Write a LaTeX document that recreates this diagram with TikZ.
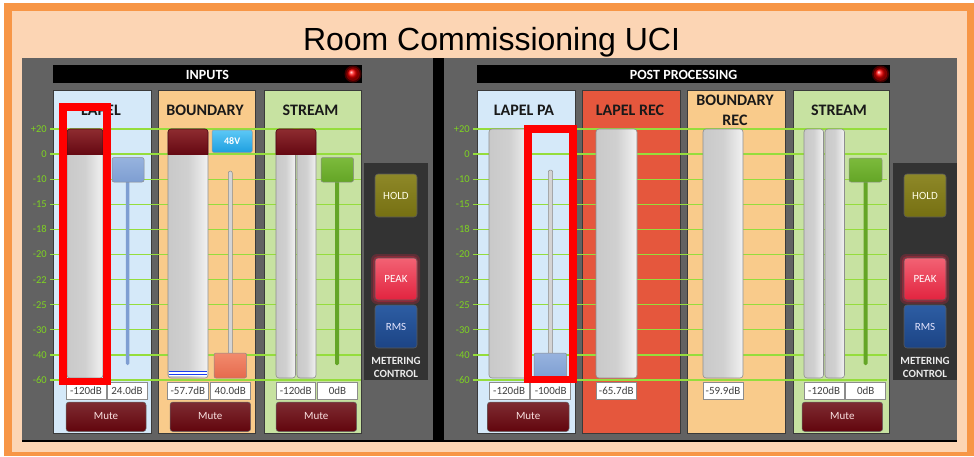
\documentclass[tikz,border=0pt]{standalone}
\usepackage{fontspec}
\setmainfont{Carlito}
\newfontfamily\titlefont{Liberation Sans}

\definecolor{frameor}{HTML}{F79646}
\definecolor{peach}{HTML}{FCD5B4}
\definecolor{panelgrey}{HTML}{626262}
\definecolor{ctrlgrey}{HTML}{333333}
\definecolor{chblue}{HTML}{D5E9F9}
\definecolor{chorange}{HTML}{F9CB8B}
\definecolor{chgreen}{HTML}{C7E2A1}
\definecolor{chred}{HTML}{E5573D}
\definecolor{chedge}{HTML}{3A3A3A}
\definecolor{gridgreen}{HTML}{95DD3C}
\definecolor{scalegreen}{HTML}{7ED321}
\definecolor{meterL}{HTML}{C9C9C9}
\definecolor{meterM}{HTML}{D0D0D0}
\definecolor{meterR}{HTML}{F2F2F2}
\definecolor{meteredge}{HTML}{8E8E8E}
\definecolor{capTop}{HTML}{8E2C30}
\definecolor{capBot}{HTML}{650812}
\definecolor{muteTop}{HTML}{7E2C32}
\definecolor{muteBot}{HTML}{62050D}
\definecolor{faderBlue}{HTML}{7E9ED2}
\definecolor{faderBlueTop}{HTML}{97B3DE}
\definecolor{faderGreen}{HTML}{64A526}
\definecolor{faderGreenTop}{HTML}{7CBB3C}
\definecolor{faderSalmon}{HTML}{E56A4E}
\definecolor{faderSalmonTop}{HTML}{F28B6D}
\definecolor{trackGrey}{HTML}{D4D4D4}
\definecolor{holdTop}{HTML}{8E8828}
\definecolor{holdBot}{HTML}{767012}
\definecolor{peakTop}{HTML}{F26274}
\definecolor{peakBot}{HTML}{E2233F}
\definecolor{rmsTop}{HTML}{2D5DA3}
\definecolor{rmsBot}{HTML}{1C4485}
\definecolor{vvTop}{HTML}{5CC8F6}
\definecolor{vvBot}{HTML}{1E9FDF}
\definecolor{levelblue}{HTML}{1A3CF0}

\newcommand{\dbbox}[4]{% name, left, right, reading
  \draw[valbox] (#2,382) rectangle (#3,399);
  \node[valtext] (#1) at ({(#2+#3)/2},390.5) {#4};}
\newcommand{\mutebutton}[3]{% name, left, right
  \draw[mutebtn] (#2,402) rectangle (#3,431.5);
  \node[mutetext] (#1) at ({(#2+#3)/2},416.5) {Mute};}
\newcommand{\capmeter}[3]{% left, right, name of cap shape
  \begin{scope}
    \clip[rounded corners=3pt] (#1,129) rectangle (#2,378);
    \shade[top color=capTop, bottom color=capBot] (#1,129) rectangle (#2,154.5);
  \end{scope}
  \draw[capBot!80!black, line width=.6pt, rounded corners=3pt] (#1,154.5) -- (#1,129) -- (#2,129) -- (#2,154.5);}

\begin{document}
\begin{tikzpicture}[x=1pt,y=-1pt,
  chpanel/.style={draw=chedge, line width=.8pt},
  meterbar/.style={draw=meteredge, line width=.6pt, rounded corners=3pt,
    left color=meterL, right color=meterR, middle color=meterM},
  gridline/.style={draw=gridgreen, line width=1.3pt},
  scalelbl/.style={anchor=east, text=scalegreen, inner sep=0pt,
    font=\fontsize{10.5}{12}\selectfont},
  chtitle/.style={anchor=base, text=black!90, inner sep=0pt,
    font=\bfseries\fontsize{16}{18}\selectfont},
  bartext/.style={text=white, inner sep=0pt, font=\bfseries\fontsize{14}{16}\selectfont},
  valbox/.style={draw=black!45, fill=white, line width=.6pt},
  valtext/.style={text=black!75, inner sep=0pt, font=\fontsize{11}{12}\selectfont},
  mutebtn/.style={draw=black!60, line width=.5pt, rounded corners=3pt,
    top color=muteTop, bottom color=muteBot},
  mutetext/.style={text=black!5!pink!40!white, inner sep=0pt, font=\fontsize{11}{12}\selectfont},
  thumb/.style={draw=black!45, line width=.5pt, rounded corners=2pt},
  ctrlbtn/.style={draw=black!65, line width=.6pt, rounded corners=3pt},
  ctrltext/.style={inner sep=0pt, font=\fontsize{11}{12}\selectfont},
  ctrllabel/.style={text=black!8, inner sep=0pt, font=\bfseries\fontsize{11}{12}\selectfont},
  highlight/.style={draw=red, line width=7.5pt},
]
\useasboundingbox (0,0) rectangle (974,456);
\fill[white] (0,0) rectangle (974,456);

% frame and title
\fill[frameor] (4,3) rectangle (974,456);
\fill[peach] (12,11) rectangle (967,452);
\node[anchor=base, inner sep=0pt, font=\titlefont\fontsize{32}{36}\selectfont] (title) at (491.5,50) {Room Commissioning UCI};

% two housings with a black divider
\fill[black] (22,58) rectangle (957,442);
\fill[panelgrey] (22,58) rectangle (433,440);
\fill[panelgrey] (444,58) rectangle (957,440);

% header bars with status lamps
\fill[black] (53,65) rectangle (362,83);
\node[bartext] (inputs) at (207.5,74.5) {INPUTS};
\fill[black] (477,65) rectangle (890,83);
\node[bartext] (postproc) at (683.5,74.5) {POST PROCESSING};
\foreach \lx in {353,880.5} {
  \fill[red, opacity=.25] (\lx,74) circle (8.5);
  \fill[red, opacity=.35] (\lx,74) circle (6.8);
  \shade[ball color=red] (\lx,74) circle (5.5);
}

% channel strips
\filldraw[chpanel, fill=chblue]   (53,90) rectangle (151,433);
\filldraw[chpanel, fill=chorange] (158,90) rectangle (255,433);
\filldraw[chpanel, fill=chgreen]  (264,90) rectangle (361,433);
\filldraw[chpanel, fill=chblue]   (477.5,90) rectangle (575,433);
\filldraw[chpanel, fill=chred]    (582.5,90) rectangle (680,433);
\filldraw[chpanel, fill=chorange] (687.5,90) rectangle (785,433);
\filldraw[chpanel, fill=chgreen]  (793,90) rectangle (889.5,433);

\node[chtitle] (t1) at (101,115) {LAPEL};
\node[chtitle] (t2) at (205,115) {BOUNDARY};
\node[chtitle] (t3) at (310.5,115) {STREAM};
\node[chtitle] (t4) at (524,115) {LAPEL PA};
\node[chtitle] (t5) at (630,115) {LAPEL REC};
\node[chtitle] (t6) at (735,105.7) {BOUNDARY};
\node[chtitle] (t7) at (735,125) {REC};
\node[chtitle] (t8) at (839,115) {STREAM};

% metering control blocks
\foreach \cx/\nm in {364/l,893/r} {
  \fill[ctrlgrey] (\cx,163) rectangle ({\cx+64},380);
  \fill[peakBot, opacity=.25, rounded corners=6pt] ({\cx+7},254) rectangle ({\cx+56},304);
  \fill[peakBot, opacity=.35, rounded corners=5pt] ({\cx+9},256) rectangle ({\cx+54},302);
  \draw[ctrlbtn, top color=holdTop, bottom color=holdBot] ({\cx+11},174) rectangle ({\cx+53},217);
  \draw[ctrlbtn, top color=peakTop, bottom color=peakBot] ({\cx+11},258) rectangle ({\cx+53},300);
  \draw[ctrlbtn, top color=rmsTop, bottom color=rmsBot] ({\cx+11},305) rectangle ({\cx+53},348);
  \node[ctrltext, text=yellow!10!white] (hold\nm) at ({\cx+32},195.5) {HOLD};
  \node[ctrltext, text=white] (peak\nm) at ({\cx+32},279) {PEAK};
  \node[ctrltext, text=blue!10!white] (rms\nm) at ({\cx+32},326.5) {RMS};
  \node[ctrllabel] (meter\nm) at ({\cx+32},360.5) {METERING};
  \node[ctrllabel] (ctrl\nm) at ({\cx+32},373.5) {CONTROL};
}

% dB scale
\foreach \v [count=\i from 0] in {+20,0,-10,-15,-18,-20,-22,-25,-30,-40,-60} {
  \draw[gridline] (50,{129+25.1*\i}) -- (361,{129+25.1*\i});
  \draw[gridline] (473,{129+25.1*\i}) -- (887,{129+25.1*\i});
  \node[scalelbl] (sl\i) at (47,{129+25.1*\i}) {\v};
  \node[scalelbl] (sr\i) at (470,{129+25.1*\i}) {\v};
}

% level meters
\draw[meterbar] (67,129) rectangle (103,378);
\draw[meterbar] (168,129) rectangle (208,378);
\draw[meterbar] (276,129) rectangle (295.5,378);
\draw[meterbar] (297,129) rectangle (316,378);
\draw[meterbar] (489,129) rectangle (530,378);
\draw[meterbar] (596,129) rectangle (637,378);
\draw[meterbar] (703,129) rectangle (743,378);
\draw[meterbar] (804,129) rectangle (823.5,378);
\draw[meterbar] (825,129) rectangle (844.5,378);
\capmeter{67}{103}{}
\capmeter{168}{208}{}
\capmeter{276}{316}{}
% signal level on the boundary meter
\fill[white] (168.6,370.5) rectangle (207.4,375.8);
\draw[levelblue, line width=1.2pt] (168.6,371.6) -- (207.4,371.6);
\draw[levelblue, line width=1.2pt] (168.6,374.7) -- (207.4,374.7);

% phantom power button
\draw[draw=black!40, line width=.5pt, rounded corners=2pt, top color=vvTop, bottom color=vvBot] (212,130) rectangle (252.3,152.5);
\node[inner sep=0pt, text=white, font=\bfseries\fontsize{10}{12}\selectfont] (v48) at (232.2,141.5) {48V};

% faders
\fill[faderBlue, rounded corners=1.5pt] (125.8,180) rectangle (129.4,365);
\draw[thumb, top color=faderBlueTop, bottom color=faderBlue] (112,157.5) rectangle (144,182);
\draw[draw=black!45, fill=trackGrey, line width=.5pt, rounded corners=2pt] (228.3,171) rectangle (232.3,356);
\draw[thumb, top color=faderSalmonTop, bottom color=faderSalmon] (214,353) rectangle (246.7,378);
\fill[faderGreen, rounded corners=1.5pt] (335,180) rectangle (339,365);
\draw[thumb, top color=faderGreenTop, bottom color=faderGreen] (321,157.5) rectangle (353.5,182);
\draw[draw=black!45, fill=trackGrey, line width=.5pt, rounded corners=2pt] (548.3,170) rectangle (552.7,356);
\draw[thumb, top color=faderBlueTop, bottom color=faderBlue] (534,353) rectangle (566.7,378);
\fill[faderGreen, rounded corners=1.5pt] (863.5,180) rectangle (867.5,365);
\draw[thumb, top color=faderGreenTop, bottom color=faderGreen] (849,158) rectangle (882,182);

% readouts
\dbbox{r1}{66}{106}{-120dB}
\dbbox{r2}{107}{147}{24.0dB}
\dbbox{r3}{167.5}{208.3}{-57.7dB}
\dbbox{r4}{210}{250.7}{40.0dB}
\dbbox{r5}{276}{315.5}{-120dB}
\dbbox{r6}{317.3}{357.7}{0dB}
\dbbox{r7}{489}{529.3}{-120dB}
\dbbox{r8}{530.7}{570.7}{-100dB}
\dbbox{r9}{596}{636.5}{-65.7dB}
\dbbox{r10}{703}{743}{-59.9dB}
\dbbox{r11}{804}{844.3}{-120dB}
\dbbox{r12}{845.7}{885.7}{0dB}

% mute buttons
\mutebutton{m1}{66}{146}
\mutebutton{m2}{170}{250.7}
\mutebutton{m3}{276}{356.7}
\mutebutton{m4}{487.3}{569}
\mutebutton{m5}{802}{882.7}

% highlight frames
\draw[highlight] (62.8,107) rectangle (107.2,381.3);
\draw[highlight] (528,129) rectangle (572.8,379.7);
\end{tikzpicture}
\end{document}
